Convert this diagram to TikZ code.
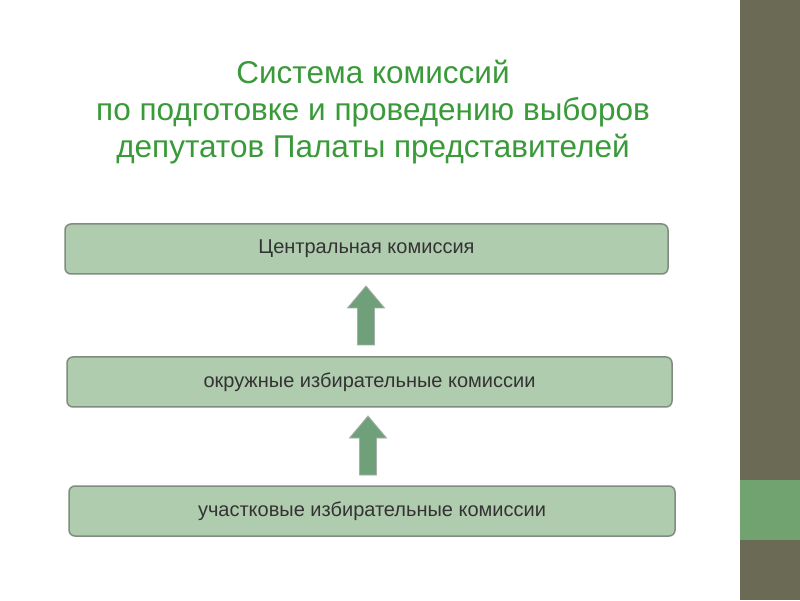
\documentclass[tikz,border=0pt]{standalone}
\usepackage{fontspec}
\setmainfont{Liberation Sans}
\usetikzlibrary{positioning,calc}
\definecolor{titlegreen}{HTML}{3A9A3A}
\definecolor{boxfill}{HTML}{B0CCAE}
\definecolor{boxline}{HTML}{7F8C7F}
\definecolor{arrowfill}{HTML}{6FA07A}
\definecolor{barolive}{HTML}{6B6B55}
\definecolor{bargreen}{HTML}{71A371}
\tikzset{
  levelbox/.style={draw=boxline, line width=1.5pt, fill=boxfill, rounded corners=6pt,
    minimum height=50pt, inner sep=0pt, text=black!80, font=\fontsize{20}{22}\selectfont},
  uparrow/.style={draw=boxline!70, line width=0.8pt, fill=arrowfill}
}
\newcommand{\blockup}[2]{% bottom coordinate, top coordinate
  \path (#1) coordinate (ab) (#2) coordinate (at);
  \draw[uparrow] ($(ab)+(-8.5,0)$) -- ($(at)+(-8.5,-22)$) -- ($(at)+(-18.5,-22)$) -- (at)
    -- ($(at)+(18.5,-22)$) -- ($(at)+(8.5,-22)$) -- ($(ab)+(8.5,0)$) -- cycle;
}
\begin{document}
\begin{tikzpicture}[x=1pt,y=1pt]
  \fill[white] (0,0) rectangle (800,600);
  \fill[barolive] (740,0) rectangle (800,600);
  \fill[bargreen] (740,60) rectangle (800,120);
  % title
  \node[titlegreen, align=center, font=\fontsize{31.5}{37}\selectfont] (title) at (373,488)
    {Система комиссий\\по подготовке и проведению выборов\\депутатов Палаты представителей};
  % levels
  \node[levelbox, minimum width=603pt] (central) at (366.5,351) {Центральная комиссия};
  \node[levelbox, minimum width=605pt] (okrug) at (369.5,218) {окружные избирательные комиссии};
  \node[levelbox, minimum width=606pt] (uchast) at (372,89) {участковые избирательные комиссии};
  % arrows
  \coordinate (a1b) at (366,255);
  \coordinate (a1t) at (366,314);
  \coordinate (a2b) at (368,125);
  \coordinate (a2t) at (368,184);
  \blockup{a1b}{a1t}
  \blockup{a2b}{a2t}
\end{tikzpicture}
\end{document}
